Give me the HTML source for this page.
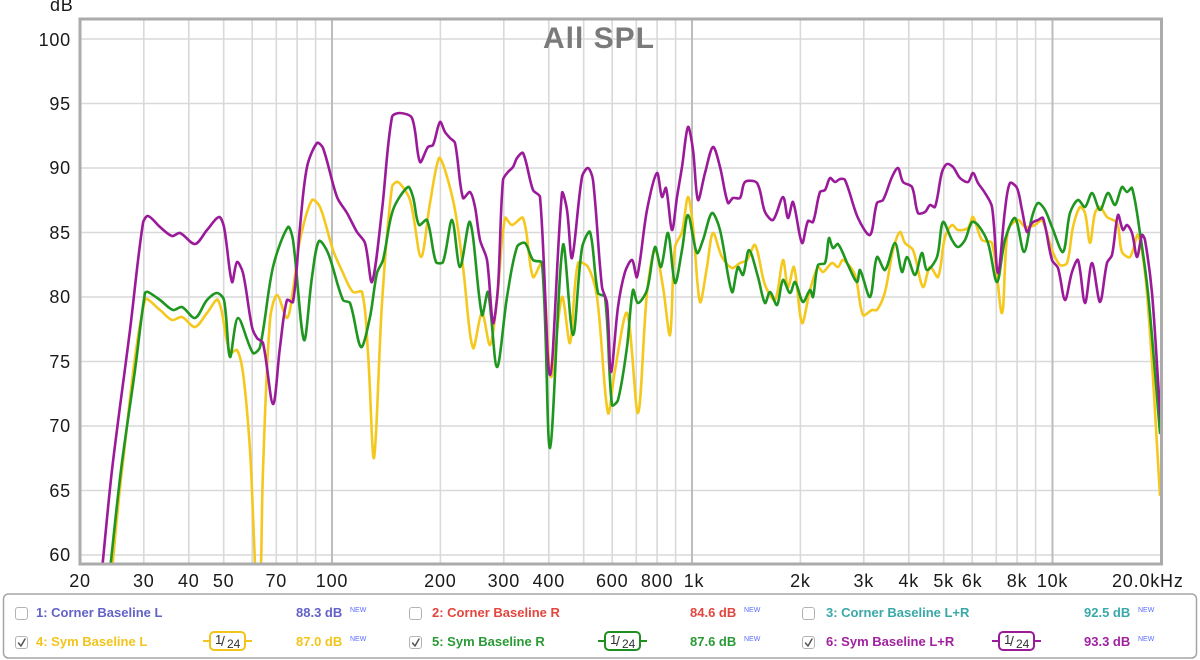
<!DOCTYPE html>
<html><head><meta charset="utf-8"><style>
html,body{margin:0;padding:0;background:#fff;}
svg{display:block;}
.ax{font-family:"Liberation Sans",sans-serif;font-size:18px;fill:#1a1a1a;letter-spacing:0.8px;}
.lg{font-family:"Liberation Sans",sans-serif;font-size:13px;font-weight:bold;}
.nw{font-family:"Liberation Sans",sans-serif;font-size:7px;fill:#5b6cff;}
.bd{font-family:"Liberation Sans",sans-serif;fill:#333;}
</style></head><body>
<svg id="chart" width="1200" height="660" viewBox="0 0 1200 660" xmlns="http://www.w3.org/2000/svg">
<defs><clipPath id="pc"><rect x="80" y="19" width="1081" height="544"/></clipPath></defs>
<rect width="1200" height="660" fill="#fff"/>
<!-- horizontal grid -->
<g stroke="#d9d9d9" stroke-width="1.6">
<line x1="80" x2="1161" y1="39" y2="39"/><line x1="80" x2="1161" y1="103.5" y2="103.5"/>
<line x1="80" x2="1161" y1="168" y2="168"/><line x1="80" x2="1161" y1="232.5" y2="232.5"/>
<line x1="80" x2="1161" y1="297" y2="297"/><line x1="80" x2="1161" y1="361.5" y2="361.5"/>
<line x1="80" x2="1161" y1="426" y2="426"/><line x1="80" x2="1161" y1="490.5" y2="490.5"/>
<line x1="80" x2="1161" y1="555" y2="555"/>
</g>
<!-- vertical grid -->
<g stroke="#d9d9d9" stroke-width="1.6">
<line x1="143.8" x2="143.8" y1="19" y2="563"/><line x1="188.8" x2="188.8" y1="19" y2="563"/>
<line x1="223.7" x2="223.7" y1="19" y2="563"/><line x1="252.2" x2="252.2" y1="19" y2="563"/>
<line x1="276.3" x2="276.3" y1="19" y2="563"/><line x1="297.1" x2="297.1" y1="19" y2="563"/>
<line x1="315.6" x2="315.6" y1="19" y2="563"/>
<line x1="440.4" x2="440.4" y1="19" y2="563"/><line x1="503.8" x2="503.8" y1="19" y2="563"/>
<line x1="548.8" x2="548.8" y1="19" y2="563"/><line x1="583.7" x2="583.7" y1="19" y2="563"/>
<line x1="612.2" x2="612.2" y1="19" y2="563"/><line x1="636.3" x2="636.3" y1="19" y2="563"/>
<line x1="657.1" x2="657.1" y1="19" y2="563"/><line x1="675.6" x2="675.6" y1="19" y2="563"/>
<line x1="800.4" x2="800.4" y1="19" y2="563"/><line x1="863.8" x2="863.8" y1="19" y2="563"/>
<line x1="908.8" x2="908.8" y1="19" y2="563"/><line x1="943.7" x2="943.7" y1="19" y2="563"/>
<line x1="972.2" x2="972.2" y1="19" y2="563"/><line x1="996.3" x2="996.3" y1="19" y2="563"/>
<line x1="1017.1" x2="1017.1" y1="19" y2="563"/><line x1="1035.6" x2="1035.6" y1="19" y2="563"/>
</g>
<g stroke="#bdbdbd" stroke-width="2">
<line x1="332" x2="332" y1="19" y2="563"/><line x1="692" x2="692" y1="19" y2="563"/><line x1="1052.5" x2="1052.5" y1="19" y2="563"/>
</g>
<!-- title -->
<text x="599" y="48" text-anchor="middle" font-family="Liberation Sans, sans-serif" font-weight="bold" font-size="30" letter-spacing="1" fill="#7a7a7a">All SPL</text>
<!-- curves -->
<g id="curves" clip-path="url(#pc)" fill="none" stroke-width="2.6" stroke-linejoin="round" stroke-linecap="round">
<polyline stroke="#f5c81e" points="112,570 122,470 145,300 160,310 172,320 182,317 195,327 207,313 218,300 230,353 237,350 243,373 250,450 254,540 257,600 260,600 263,470 270,320 277,295 287,318 293,290 300,240 312,200 320,207 333,250 343,273 353,292 362,292 368,353 374,458 382,303 392,187 398,182 410,200 421,257 430,203 439,158 445,170 455,210 463,267 473,348 482,313 490,345 497,300 505,218 512,225 523,218 533,277 542,263 551,377 562,297 570,343 578,263 588,267 597,297 608,413 615,370 627,313 638,413 647,293 655,250 663,287 670,335 675,247 682,232 688,197 693,227 700,302 707,267 713,233 722,257 732,268 740,263 747,260 755,245 765,285 775,300 783,260 788,287 794,267 802,323 810,290 818,267 823,272 832,263 838,267 843,260 855,275 863,315 872,310 877,310 885,292 893,250 900,232 905,243 913,250 923,287 930,267 938,277 945,237 952,225 958,230 968,228 973,217 982,240 992,243 1002,313 1008,230 1018,220 1025,227 1035,225 1042,220 1052,250 1060,265 1067,263 1073,227 1080,207 1085,213 1090,243 1095,213 1100,207 1107,217 1117,223 1122,252 1130,257 1138,235 1147,293 1160,495"/>
<polyline stroke="#1f961f" points="110,570 121,470 135,370 145,293 148,292 160,300 173,310 182,307 195,318 207,300 217,293 224,300 230,357 238,318 253,353 260,347 273,267 288,227 293,240 304,340 312,277 319,241 328,253 343,300 350,303 361,347 370,317 377,273 383,260 393,210 408,187 413,197 419,225 427,220 436,262 443,262 452,220 460,267 470,222 482,315 488,292 497,367 507,297 517,247 525,243 533,260 542,263 550,448 563,245 573,335 582,248 590,232 598,293 605,297 612,405 618,400 627,347 633,290 638,303 647,290 655,247 661,267 668,233 675,283 682,250 688,215 697,253 703,240 712,213 720,230 732,292 738,267 743,275 749,250 758,277 765,303 770,292 777,305 783,280 790,293 795,282 803,302 810,290 813,297 818,265 825,263 829,238 833,248 838,244 848,265 857,282 860,270 870,297 877,257 885,270 895,243 902,272 907,257 915,275 922,253 927,270 937,257 943,222 952,240 958,247 965,240 972,222 978,225 988,243 997,282 1005,240 1015,218 1024,252 1032,217 1038,203 1045,210 1052,227 1063,252 1070,213 1078,200 1085,207 1092,193 1100,210 1108,193 1115,205 1122,187 1127,192 1132,188 1140,233 1148,293 1160,433"/>
<polyline stroke="#9a1a9a" points="102,570 112,470 130,330 143,223 148,216 160,227 172,236 180,233 195,244 207,230 219,217 224,227 232,282 237,262 243,273 252,327 257,338 263,343 273,404 280,347 287,300 293,302 300,227 307,167 317,143 323,148 337,197 347,213 357,232 365,243 372,282 382,210 392,117 400,113 412,118 420,162 428,147 433,145 440,122 445,132 450,138 455,143 463,198 470,192 475,207 480,240 487,260 493,323 498,287 503,180 508,172 513,167 517,158 523,153 533,190 540,197 550,375 562,193 567,210 572,258 582,177 588,168 593,180 602,287 607,303 611,372 618,307 625,272 632,260 637,277 647,210 657,173 662,197 666,188 672,230 677,197 682,167 688,127 693,150 698,200 705,173 713,147 720,167 728,203 733,198 740,198 745,182 757,183 765,212 773,220 783,197 788,218 793,202 802,243 808,221 813,222 820,192 825,190 830,178 835,182 840,179 845,180 858,218 870,235 877,203 883,200 892,177 898,168 903,182 912,187 918,213 925,212 930,205 935,207 942,172 947,164 953,167 960,178 968,182 973,173 978,183 985,193 992,207 998,273 1005,210 1010,183 1017,188 1022,210 1027,232 1032,223 1038,220 1043,218 1052,260 1058,268 1065,300 1072,272 1078,260 1085,303 1092,263 1100,302 1107,263 1112,255 1118,215 1123,230 1127,225 1132,233 1137,257 1142,235 1145,240 1152,293 1160,410 1162,430"/>
</g>
<!-- frame -->
<rect x="80" y="19" width="1081.5" height="545" fill="none" stroke="#ababab" stroke-width="3"/>
<!-- y labels -->
<g class="ax" text-anchor="end">
<text x="71" y="46">100</text><text x="71" y="110">95</text><text x="71" y="174">90</text>
<text x="71" y="239">85</text><text x="71" y="303">80</text><text x="71" y="368">75</text>
<text x="71" y="432">70</text><text x="71" y="497">65</text><text x="71" y="561">60</text>
</g>
<text class="ax" x="50" y="11">dB</text>
<!-- x labels -->
<g class="ax" text-anchor="middle">
<text x="80" y="587">20</text><text x="143.8" y="587">30</text><text x="188.8" y="587">40</text>
<text x="223.7" y="587">50</text><text x="276.3" y="587">70</text><text x="332" y="587">100</text>
<text x="440.4" y="587">200</text><text x="503.8" y="587">300</text><text x="548.8" y="587">400</text>
<text x="612.2" y="587">600</text><text x="657.1" y="587">800</text><text x="694" y="587">1k</text>
<text x="800.4" y="587">2k</text><text x="863.8" y="587">3k</text><text x="908.8" y="587">4k</text>
<text x="943.7" y="587">5k</text><text x="972.2" y="587">6k</text><text x="1017.1" y="587">8k</text>
<text x="1052.5" y="587">10k</text>
</g>
<text class="ax" x="1112" y="587">20.0kHz</text>
<!-- legend -->
<rect x="3.5" y="594" width="1193" height="64" rx="5" fill="#fff" stroke="#a5a5a5" stroke-width="1.5"/>
<g fill="#fff" stroke="#b3b3b3" stroke-width="1">
<rect x="15.5" y="607.5" width="12" height="12" rx="2.5"/><rect x="15.5" y="636.5" width="12" height="12" rx="2.5"/>
<rect x="409.5" y="607.5" width="12" height="12" rx="2.5"/><rect x="409.5" y="636.5" width="12" height="12" rx="2.5"/>
<rect x="802.5" y="607.5" width="12" height="12" rx="2.5"/><rect x="802.5" y="636.5" width="12" height="12" rx="2.5"/>
</g>
<g fill="none" stroke="#555" stroke-width="1.5" stroke-linecap="round" stroke-linejoin="round">
<polyline points="18.5,643 21,646 25,639"/><polyline points="412.5,643 415,646 419,639"/><polyline points="805.5,643 808,646 812,639"/>
</g>
<text class="lg" x="36" y="617" fill="#6262c8">1: Corner Baseline L</text>
<text class="lg" x="296" y="617" fill="#6262c8">88.3 dB</text><text class="nw" x="350" y="612">NEW</text>
<text class="lg" x="36" y="646" fill="#f3c41c">4: Sym Baseline L</text>
<text class="lg" x="296" y="646" fill="#f3c41c">87.0 dB</text><text class="nw" x="350" y="641">NEW</text>
<text class="lg" x="432" y="617" fill="#e2463e">2: Corner Baseline R</text>
<text class="lg" x="690" y="617" fill="#e2463e">84.6 dB</text><text class="nw" x="744" y="612">NEW</text>
<text class="lg" x="432" y="646" fill="#2a9a36">5: Sym Baseline R</text>
<text class="lg" x="690" y="646" fill="#2a9a36">87.6 dB</text><text class="nw" x="744" y="641">NEW</text>
<text class="lg" x="826" y="617" fill="#3aa8a8">3: Corner Baseline L+R</text>
<text class="lg" x="1084" y="617" fill="#3aa8a8">92.5 dB</text><text class="nw" x="1138" y="612">NEW</text>
<text class="lg" x="826" y="646" fill="#a022a0">6: Sym Baseline L+R</text>
<text class="lg" x="1084" y="646" fill="#a022a0">93.3 dB</text><text class="nw" x="1138" y="641">NEW</text>
<!-- badges -->
<g fill="#fff" stroke-width="2">
<g stroke="#f3c41c"><line x1="203" x2="210" y1="641" y2="641"/><line x1="245" x2="252" y1="641" y2="641"/><rect x="210" y="632" width="35" height="18" rx="4"/></g>
<g stroke="#1f8f1f"><line x1="598" x2="605" y1="641" y2="641"/><line x1="640" x2="647" y1="641" y2="641"/><rect x="605" y="632" width="35" height="18" rx="4"/></g>
<g stroke="#9a1a9a"><line x1="992" x2="999" y1="641" y2="641"/><line x1="1034" x2="1041" y1="641" y2="641"/><rect x="999" y="632" width="35" height="18" rx="4"/></g>
</g>
<g class="bd">
<text x="215" y="644" font-size="13">1</text><text x="221" y="646" font-size="14">/</text><text x="227" y="648" font-size="12">24</text>
<text x="610" y="644" font-size="13">1</text><text x="616" y="646" font-size="14">/</text><text x="622" y="648" font-size="12">24</text>
<text x="1004" y="644" font-size="13">1</text><text x="1010" y="646" font-size="14">/</text><text x="1016" y="648" font-size="12">24</text>
</g>
</svg>
<script>
(function(){
  try{
    var g=document.getElementById('curves');
    var pls=g.getElementsByTagName('polyline');
    var arr=[];for(var i=0;i<pls.length;i++)arr.push(pls[i]);
    function dist(a,b){var dx=a[0]-b[0],dy=a[1]-b[1];return Math.sqrt(dx*dx+dy*dy)||1;}
    arr.forEach(function(pl){
      var pts=pl.getAttribute('points').trim().split(/\s+/).map(function(s){var a=s.split(',');return [parseFloat(a[0]),parseFloat(a[1])];});
      var n=pts.length;
      // tangents (length-weighted)
      var tg=[];
      for(var k=0;k<n;k++){
        var p0=pts[k>0?k-1:k],p2=pts[k<n-1?k+1:k];
        var d0=dist(pts[k],p0),d2=dist(pts[k],p2);
        var s=d0+d2;
        tg.push([(p2[0]-p0[0])/s,(p2[1]-p0[1])/s]);
      }
      var d='M'+pts[0][0]+','+pts[0][1];
      for(var k=0;k<n-1;k++){
        var p1=pts[k],p2=pts[k+1];
        var L=dist(p1,p2)/3.2;
        var c1x=p1[0]+tg[k][0]*L,c1y=p1[1]+tg[k][1]*L;
        var c2x=p2[0]-tg[k+1][0]*L,c2y=p2[1]-tg[k+1][1]*L;
        d+=' C'+c1x.toFixed(1)+','+c1y.toFixed(1)+' '+c2x.toFixed(1)+','+c2y.toFixed(1)+' '+p2[0]+','+p2[1];
      }
      var p=document.createElementNS('http://www.w3.org/2000/svg','path');
      p.setAttribute('d',d);p.setAttribute('stroke',pl.getAttribute('stroke'));
      g.replaceChild(p,pl);
    });
  }catch(e){}
})();
</script>
</body></html>
